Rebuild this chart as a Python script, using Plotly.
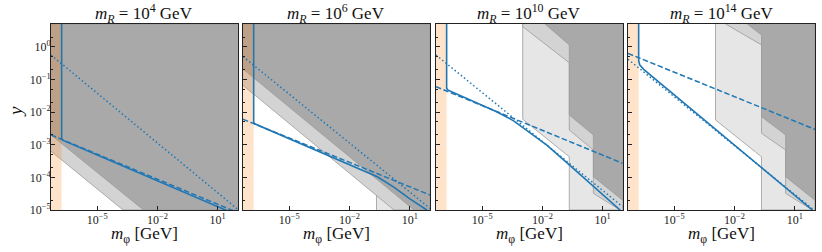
import numpy as np
import plotly.graph_objects as go

# ---------------- data (log10 values) ----------------
titles = ["4", "6", "10", "14"]          # m_R = 10^k GeV
x_range = [-7.3, 2.0]                     # log10 m_phi [GeV]
y_range = [-5.0, 0.7]                     # log10 y
m_cut = -6.77                             # orange band edge (log10 m_phi)

x_tickvals = [-5, -2, 1]
x_ticktext = ["10<sup>−5</sup>", "10<sup>−2</sup>", "10<sup>1</sup>"]
y_tickvals = [0, -1, -2, -3, -4, -5]
y_ticktext = ["10<sup>0</sup>", "10<sup>−1</sup>", "10<sup>−2</sup>",
              "10<sup>−3</sup>", "10<sup>−4</sup>", "10<sup>−5</sup>"]

# gray exclusion regions (log10 m_phi, log10 y)
p1_light_x = [-7.3, -3.71, 2.0, 2.0, -7.3]
p1_light_y = [-3.20, -5.0, -5.0, 0.7, 0.7]
p1_dark_x = [-7.3, -2.69, 2.0, 2.0, -7.3]
p1_dark_y = [-2.70, -5.0, -5.0, 0.7, 0.7]

p2_A_x = [-0.66, -0.66, 2.0, 2.0]
p2_A_y = [-5.0, 0.7, 0.7, -5.0]
p2_light_x = [-7.3, 0.21, 2.0, 2.0, -7.3]
p2_light_y = [-1.18, -5.0, -5.0, 0.7, 0.7]
p2_dark_x = [-7.3, 1.21, 2.0, 2.0, -7.3]
p2_dark_y = [-0.68, -5.0, -5.0, 0.7, 0.7]

p3_A_x = [-2.98, -2.98, -0.66, -0.66, 2.0, 2.0]
p3_A_y = [0.7, -2.22, -3.37, -5.0, -5.0, 0.7]
p3_B_x = [-2.98, -2.98, -0.66, -0.66, 0.54, 0.54, 2.0, 2.0]
p3_B_y = [0.7, 0.62, -0.49, -2.55, -3.16, -4.49, -5.05, 0.7]
p3_C_x = [-1.87, -0.66, -0.66, 0.54, 0.54, 2.0, 2.0]
p3_C_y = [0.7, 0.06, -2.09, -2.70, -3.98, -4.70, 0.7]

p4_A_x = [-2.95, -2.95, -0.66, -0.66, 2.0, 2.0]
p4_A_y = [0.7, -2.24, -3.37, -5.0, -5.0, 0.7]
p4_B_x = [-2.45, -0.66, -0.66, 0.54, 0.54, 2.0, 2.0]
p4_B_y = [0.7, 0.06, -2.65, -3.16, -4.49, -5.05, 0.7]
p4_C_x = [-1.37, -0.66, -0.66, 0.54, 0.54, 2.0, 2.0]
p4_C_y = [0.7, 0.36, -2.14, -2.70, -3.98, -4.70, 0.7]

# blue curves
p1_solid_x = [-6.77, -6.77, -6.72, 2.0]
p1_solid_y = [0.7, -2.80, -2.86, -5.16]
p1_dash_x = [-7.3, 2.0]
p1_dash_y = [-2.70, -5.08]
p1_dot_x = [-7.3, 2.0]
p1_dot_y = [-0.25, -4.98]

p2_solid_x = [-6.77, -6.77, -6.72, -0.62, 0.2, 1.0, 1.84]
p2_solid_y = [0.7, -2.30, -2.36, -3.98, -4.30, -4.66, -5.0]
p2_dash_x = [-7.3, 2.0]
p2_dash_y = [-2.22, -4.54]
p2_dot_x = [-7.3, 2.0]
p2_dot_y = [-0.30, -4.95]

p3_solid_x = [-6.77, -6.77, -6.72, -5.94, -5.11, -4.28, -3.45, -2.62, -1.78, -0.66, 1.87]
p3_solid_y = [0.7, -1.26, -1.32, -1.53, -1.75, -1.99, -2.26, -2.63, -3.01, -3.62, -5.0]
p3_dash_x = [-7.3, 2.0]
p3_dash_y = [-1.22, -3.57]
p3_dot_x = [-7.3, 2.0]
p3_dot_y = [-0.25, -4.90]

p4_solid_x = [-6.77, -6.77, -6.72, -6.62, -6.52, 1.87]
p4_solid_y = [0.7, -0.42, -0.55, -0.63, -0.69, -5.0]
p4_dash_x = [-7.3, 2.0]
p4_dash_y = [-0.20, -2.53]
p4_dot_x = [-7.3, 2.0]
p4_dot_y = [-0.38, -5.03]

# ---------------- styles ----------------
LIGHTEST = "#e6e6e6"
MID = "#d3d3d3"
DARK = "#a9a9a9"
EDGE = "#9a9a9a"
BLUE = "#1f77b4"
ORANGE = "rgba(255,127,14,0.22)"
FONT = "Liberation Serif"

panels = [
    {"regions": [(MID, p1_light_x, p1_light_y), (DARK, p1_dark_x, p1_dark_y)],
     "solid": (p1_solid_x, p1_solid_y), "dash": (p1_dash_x, p1_dash_y), "dot": (p1_dot_x, p1_dot_y)},
    {"regions": [(LIGHTEST, p2_A_x, p2_A_y), (MID, p2_light_x, p2_light_y), (DARK, p2_dark_x, p2_dark_y)],
     "solid": (p2_solid_x, p2_solid_y), "dash": (p2_dash_x, p2_dash_y), "dot": (p2_dot_x, p2_dot_y)},
    {"regions": [(LIGHTEST, p3_A_x, p3_A_y), (MID, p3_B_x, p3_B_y), (DARK, p3_C_x, p3_C_y)],
     "solid": (p3_solid_x, p3_solid_y), "dash": (p3_dash_x, p3_dash_y), "dot": (p3_dot_x, p3_dot_y)},
    {"regions": [(LIGHTEST, p4_A_x, p4_A_y), (MID, p4_B_x, p4_B_y), (DARK, p4_C_x, p4_C_y)],
     "solid": (p4_solid_x, p4_solid_y), "dash": (p4_dash_x, p4_dash_y), "dot": (p4_dot_x, p4_dot_y)},
]

# page body margin is removed by a small post-script, so figure pixels = window pixels
W, H = 822, 252
ML, MT = 51, 24
BOTTOM = 210
RIGHT = 815
MR, MB = W - RIGHT, H - BOTTOM
PW = W - ML - MR
PH = H - MT - MB
px_domains = [(51, 237.7), (243, 430), (436, 622.7), (628, 815)]
domains = [[(a - ML) / PW, (b - ML) / PW] for a, b in px_domains]

def p10(a):
    return np.power(10.0, np.asarray(a, dtype=float))

fig = go.Figure()

for i, pan in enumerate(panels):
    xa = "x" if i == 0 else f"x{i+1}"
    ya = "y" if i == 0 else f"y{i+1}"
    for col, lx, ly in pan["regions"]:
        fig.add_trace(go.Scatter(x=p10(lx), y=p10(ly), fill="toself", fillcolor=col,
                                 mode="lines", line=dict(color=EDGE, width=0.8),
                                 xaxis=xa, yaxis=ya, showlegend=False, hoverinfo="skip"))
    bx = [x_range[0], m_cut, m_cut, x_range[0], x_range[0]]
    by = [y_range[0], y_range[0], y_range[1], y_range[1], y_range[0]]
    fig.add_trace(go.Scatter(x=p10(bx), y=p10(by), fill="toself", fillcolor=ORANGE,
                             mode="lines", line=dict(width=0, color="rgba(0,0,0,0)"),
                             xaxis=xa, yaxis=ya, showlegend=False, hoverinfo="skip"))
    sx, sy = pan["dot"]
    fig.add_trace(go.Scatter(x=p10(sx), y=p10(sy), mode="lines",
                             line=dict(color=BLUE, width=1.5, dash="1.5px,2.5px"),
                             xaxis=xa, yaxis=ya, showlegend=False, hoverinfo="skip"))
    sx, sy = pan["dash"]
    fig.add_trace(go.Scatter(x=p10(sx), y=p10(sy), mode="lines",
                             line=dict(color=BLUE, width=1.5, dash="5.5px,2.5px"),
                             xaxis=xa, yaxis=ya, showlegend=False, hoverinfo="skip"))
    sx, sy = pan["solid"]
    fig.add_trace(go.Scatter(x=p10(sx), y=p10(sy), mode="lines",
                             line=dict(color=BLUE, width=1.6),
                             xaxis=xa, yaxis=ya, showlegend=False, hoverinfo="skip"))

axis_common = dict(type="log", showgrid=False, zeroline=False, showline=True, mirror=True,
                   linecolor="#222", linewidth=1, ticks="inside", ticklen=4, tickcolor="#222",
                   automargin=False,
                   tickfont=dict(family=FONT, size=12, color="#222"))

layout = dict(width=W, height=H, paper_bgcolor="white", plot_bgcolor="white",
              margin=dict(l=ML, r=MR, t=MT, b=MB, autoexpand=False), showlegend=False,
              hovermode=False)
for i in range(4):
    xk = "xaxis" if i == 0 else f"xaxis{i+1}"
    yk = "yaxis" if i == 0 else f"yaxis{i+1}"
    layout[xk] = dict(axis_common, domain=domains[i], range=x_range,
                      tickvals=p10(x_tickvals), ticktext=x_ticktext,
                      ticklabelstandoff=-1,
                      anchor="y" if i == 0 else f"y{i+1}")
    layout[yk] = dict(axis_common, domain=[0, 1], range=y_range,
                      tickvals=p10(y_tickvals), ticktext=y_ticktext,
                      showticklabels=(i == 0), ticklabelstandoff=-3,
                      minor=dict(ticks="inside", ticklen=2, tickcolor="#222"),
                      anchor="x" if i == 0 else f"x{i+1}")
fig.update_layout(**layout)

annotations = []
for i, k in enumerate(titles):
    d = domains[i]
    annotations.append(dict(text=f"<i>m</i><sub><i>R</i></sub> = 10<sup>{k}</sup> GeV",
                            xref="paper", yref="paper", x=(d[0] + d[1]) / 2, y=1.0,
                            xanchor="center", yanchor="bottom", yshift=-4, showarrow=False,
                            font=dict(family=FONT, size=17, color="#111")))
    annotations.append(dict(text="<i>m</i><sub>φ</sub> [GeV]",
                            xref="paper", yref="paper", x=(d[0] + d[1]) / 2,
                            y=-(235 - 210) / PH,
                            xanchor="center", yanchor="middle", showarrow=False,
                            font=dict(family=FONT, size=17, color="#111")))
annotations.append(dict(text="<i>y</i>", xref="paper", yref="paper",
                        x=(15 - 51) / PW, y=(210 - 112) / PH, xanchor="center", yanchor="middle",
                        textangle=-90, showarrow=False,
                        font=dict(family=FONT, size=19, color="#111")))
fig.update_layout(annotations=annotations)

fig.write_html("out.html",
               config={"displayModeBar": False, "staticPlot": True},
               post_script="document.body.style.margin='0px';document.body.style.overflow='hidden';")
